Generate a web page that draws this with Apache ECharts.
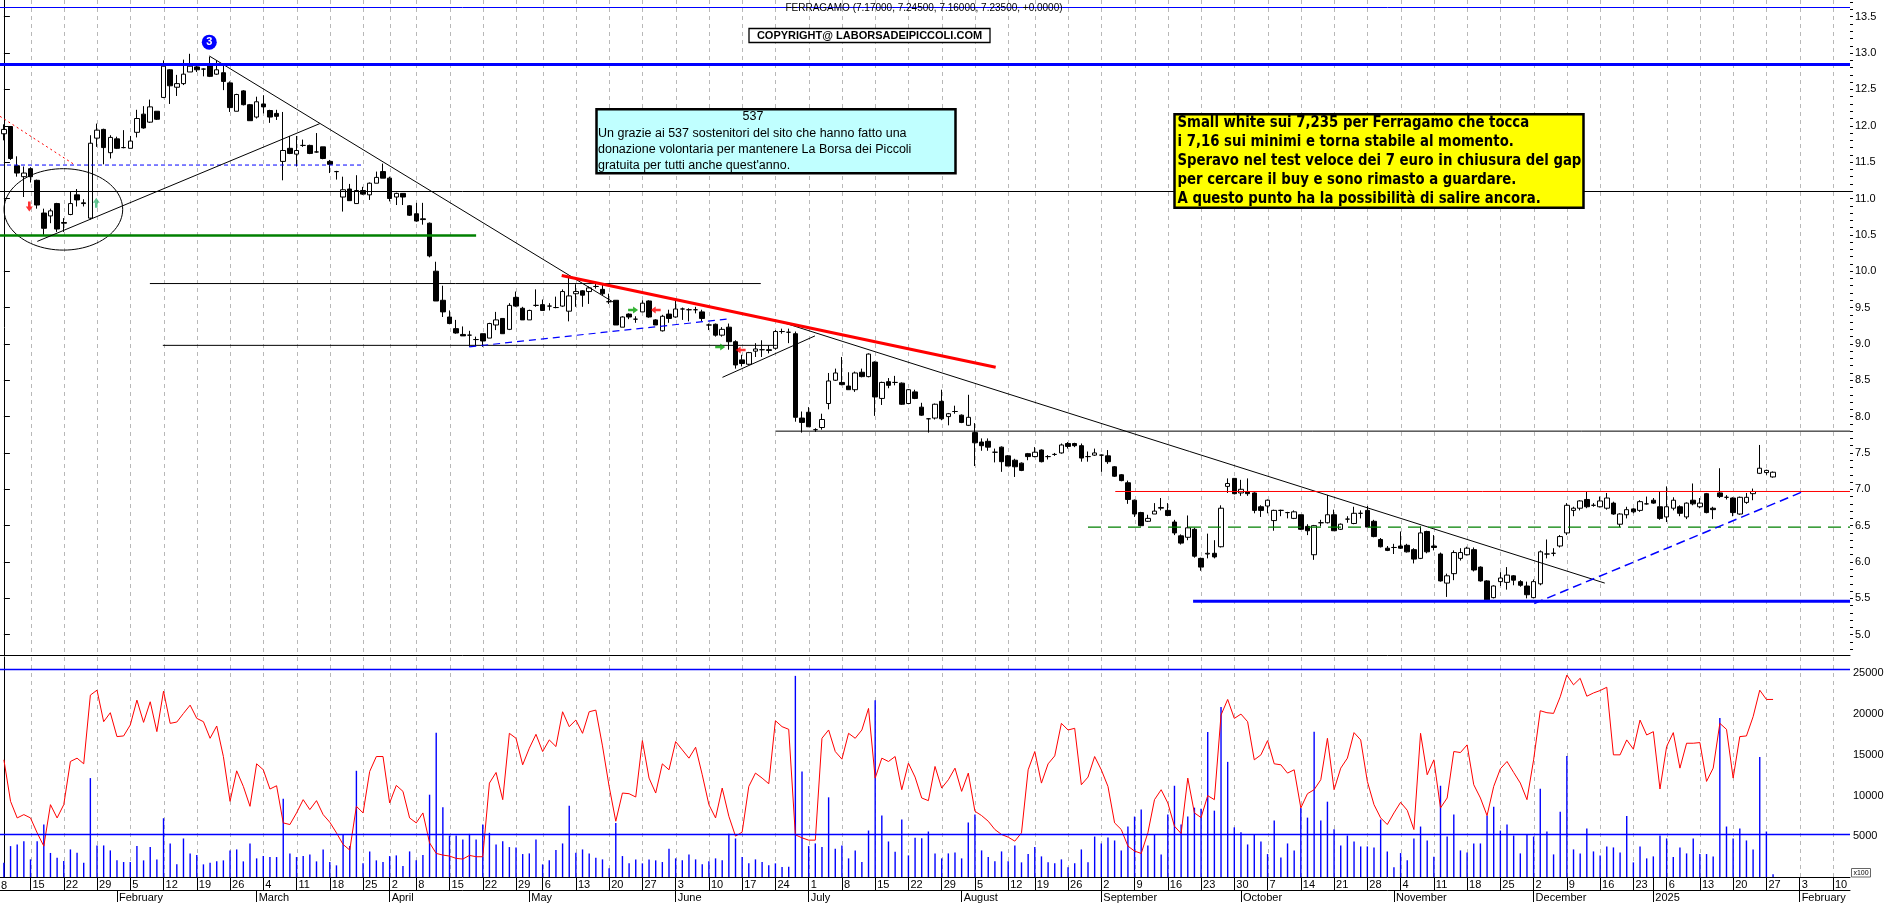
<!DOCTYPE html>
<html><head><meta charset="utf-8">
<script src="https://cdn.jsdelivr.net/npm/echarts@6/dist/echarts.min.js"></script>
<style>html,body{margin:0;padding:0;background:#fff;}#c{width:1890px;height:903px;}</style>
</head><body><div id="c"></div>
<script>
// ---------- DATA ----------
const startDate = '2024-01-09';
const endDate = '2025-02-12';
const holidays = ['2024-03-29','2024-04-01','2024-05-01','2024-08-15','2024-12-24','2024-12-25','2024-12-26','2024-12-31','2025-01-01'];
const skipWeekStarts = ['2024-12-30'];

const opens = [11.89,11.99,11.45,11.30,11.41,11.25,10.80,10.76,10.93,10.67,
10.78,11.05,10.94,10.73,11.83,11.95,11.63,11.82,11.70,11.69,
11.91,12.16,12.05,12.20,12.39,12.77,12.53,12.58,12.74,12.81,
12.78,12.85,12.71,12.73,12.59,12.20,12.48,12.29,12.12,12.30,
12.21,12.17,11.51,11.69,11.61,11.73,11.73,11.64,11.71,11.51,
11.37,11.02,11.13,10.93,11.11,11.05,11.21,11.37,11.28,11.02,
11.07,10.90,10.79,10.72,10.66,10.00,9.60,9.37,9.21,9.13,
9.12,9.06,9.14,9.08,9.26,9.35,9.20,9.64,9.49,9.33,
9.53,9.54,9.52,9.50,9.52,9.45,9.69,9.73,9.72,9.79,
9.75,9.58,9.60,9.23,9.41,9.34,9.44,9.59,9.33,9.18,
9.41,9.37,9.48,9.47,9.47,9.44,9.26,9.27,9.12,9.23,
9.03,8.78,8.72,8.90,8.92,8.92,8.94,9.17,9.16,9.14,
7.98,8.06,7.82,7.85,8.18,8.50,8.47,8.42,8.37,8.61,
8.55,8.75,8.25,8.48,8.47,8.46,8.18,8.34,8.13,7.97,
7.98,8.21,8.00,8.07,8.02,7.88,7.78,7.65,7.66,7.51,
7.58,7.46,7.40,7.36,7.49,7.45,7.54,7.45,7.48,7.50,
7.63,7.63,7.60,7.45,7.47,7.47,7.46,7.31,7.20,7.09,
6.85,6.68,6.56,6.66,6.74,6.71,6.55,6.36,6.34,6.45,
6.05,6.11,6.12,6.21,7.04,7.15,6.95,6.97,6.95,6.76,
6.77,6.57,6.71,6.68,6.60,6.65,6.49,6.10,6.54,6.54,
6.65,6.45,6.59,6.53,6.67,6.71,6.56,6.31,6.19,6.20,
6.22,6.23,6.17,6.05,6.42,6.22,6.11,5.71,5.84,6.05,
6.10,6.17,5.93,5.74,5.51,5.73,5.72,5.81,5.73,5.67,
5.51,5.70,6.11,6.12,6.22,6.40,6.71,6.74,6.86,6.78,
6.76,6.74,6.81,6.52,6.65,6.73,6.71,6.80,6.85,6.76,
6.62,6.74,6.76,6.62,6.85,6.76,6.94,6.74,6.95,6.89,
6.88,6.66,6.82,6.94,7.22,7.23,7.17];

const highs = [12.02,11.99,11.58,11.44,11.43,11.26,10.86,10.86,10.94,10.73,
11.09,11.13,10.99,11.87,12.03,11.96,11.87,11.85,11.94,11.86,
12.22,12.27,12.36,12.20,12.90,12.78,12.70,12.91,12.99,12.86,
12.79,12.95,12.90,12.86,12.61,12.44,12.49,12.30,12.40,12.42,
12.22,12.22,12.19,11.86,11.86,11.81,11.74,11.90,11.71,11.53,
11.38,11.30,11.20,11.32,11.16,11.22,11.37,11.48,11.30,11.08,
11.07,10.91,10.94,10.94,10.67,10.13,9.80,9.46,9.33,9.24,
9.18,9.10,9.14,9.29,9.44,9.35,9.56,9.72,9.51,9.47,
9.75,9.61,9.56,9.65,9.75,9.92,9.82,9.74,9.79,9.83,
9.83,9.69,9.60,9.38,9.42,9.38,9.60,9.60,9.34,9.40,
9.47,9.59,9.50,9.49,9.51,9.47,9.28,9.28,9.23,9.28,
9.05,8.85,8.89,9.01,9.05,8.98,9.19,9.21,9.21,9.17,
8.07,8.13,7.84,8.04,8.60,8.66,8.82,8.61,8.62,8.66,
8.87,8.76,8.48,8.53,8.56,8.47,8.38,8.37,8.19,7.98,
8.18,8.37,8.05,8.15,8.03,8.30,7.91,7.70,7.70,7.56,
7.59,7.47,7.42,7.37,7.50,7.58,7.55,7.47,7.50,7.63,
7.65,7.64,7.63,7.52,7.56,7.48,7.54,7.32,7.21,7.12,
6.86,6.69,6.65,6.81,6.88,6.81,6.58,6.38,6.64,6.47,
6.06,6.39,6.30,6.78,7.15,7.15,7.13,7.15,6.96,6.78,
6.86,6.72,6.72,6.69,6.71,6.65,6.52,6.51,6.58,6.92,
6.72,6.53,6.63,6.76,6.71,6.77,6.58,6.33,6.22,6.25,
6.42,6.25,6.19,6.49,6.43,6.37,6.13,5.84,6.16,6.19,
6.21,6.20,5.94,5.75,5.68,5.86,5.93,5.82,5.75,5.73,
5.76,6.16,6.31,6.19,6.37,6.81,6.76,6.85,6.97,6.81,
6.90,6.95,6.83,6.67,6.76,6.74,6.85,6.90,6.88,6.97,
7.04,6.89,6.78,6.82,7.08,6.88,6.95,6.76,7.29,6.92,
6.89,6.90,6.95,7.01,7.61,7.27,7.245];

const lows = [11.80,11.53,11.30,11.02,11.22,10.86,10.50,10.66,10.54,10.54,
10.77,10.89,10.89,10.71,11.71,11.47,11.55,11.68,11.69,11.69,
11.84,11.96,12.04,12.08,12.38,12.30,12.41,12.56,12.74,12.74,
12.68,12.67,12.70,12.49,12.19,12.20,12.28,12.07,12.10,12.17,
12.04,12.08,11.25,11.61,11.44,11.71,11.61,11.63,11.54,11.35,
11.26,10.82,10.97,10.93,11.05,10.98,11.21,11.28,10.96,10.91,
10.91,10.76,10.68,10.64,10.19,9.59,9.37,9.27,9.14,9.11,
8.96,8.97,8.96,9.08,9.19,9.14,9.19,9.51,9.33,9.33,
9.51,9.46,9.46,9.49,9.51,9.31,9.51,9.51,9.55,9.76,
9.67,9.55,9.26,9.23,9.34,9.29,9.44,9.36,9.26,9.17,
9.29,9.36,9.33,9.31,9.42,9.31,9.19,9.10,9.10,8.92,
8.66,8.69,8.71,8.82,8.82,8.87,8.92,9.14,9.01,7.93,
7.78,7.86,7.79,7.82,8.10,8.49,8.43,8.37,8.34,8.54,
8.54,8.01,8.16,8.39,8.43,8.16,8.17,8.24,8.01,7.78,
7.96,7.95,7.88,8.04,7.91,7.87,7.32,7.53,7.53,7.37,
7.24,7.32,7.17,7.25,7.40,7.44,7.37,7.41,7.46,7.49,
7.56,7.58,7.38,7.38,7.46,7.24,7.35,7.17,7.11,6.80,
6.62,6.49,6.55,6.66,6.71,6.63,6.37,6.24,6.30,6.06,
5.88,6.05,6.05,6.20,6.95,6.93,6.91,6.91,6.67,6.62,
6.67,6.43,6.63,6.60,6.59,6.44,6.37,6.03,6.49,6.53,
6.43,6.44,6.54,6.52,6.60,6.48,6.34,6.20,6.15,6.11,
6.18,6.13,5.98,6.04,6.12,6.16,5.73,5.52,5.75,6.02,
6.09,5.87,5.73,5.47,5.50,5.67,5.62,5.68,5.66,5.50,
5.50,5.68,6.05,6.08,6.20,6.37,6.63,6.71,6.74,6.76,
6.75,6.72,6.65,6.48,6.60,6.67,6.69,6.79,6.80,6.58,
6.55,6.71,6.63,6.59,6.78,6.74,6.67,6.59,6.88,6.86,
6.63,6.65,6.80,6.85,7.21,7.20,7.16];

const closes = [11.95,11.55,11.35,11.35,11.30,10.91,10.59,10.83,10.58,10.66,
10.93,10.98,10.93,11.76,11.94,11.70,11.84,11.69,11.70,11.79,
12.10,11.97,12.26,12.09,12.82,12.55,12.58,12.71,12.82,12.77,
12.78,12.68,12.77,12.61,12.25,12.43,12.29,12.07,12.33,12.26,
12.12,12.13,11.66,11.62,11.66,11.73,11.62,11.64,11.55,11.47,
11.37,11.12,10.97,11.11,11.06,11.21,11.29,11.28,11.00,11.07,
11.02,10.77,10.69,10.71,10.21,9.59,9.44,9.28,9.15,9.11,
9.12,9.06,9.04,9.28,9.33,9.14,9.53,9.52,9.33,9.46,
9.53,9.46,9.52,9.50,9.72,9.66,9.72,9.67,9.77,9.79,
9.69,9.58,9.26,9.37,9.37,9.34,9.56,9.37,9.26,9.38,
9.35,9.48,9.48,9.47,9.47,9.35,9.26,9.12,9.20,9.03,
8.71,8.73,8.88,8.93,8.92,8.91,9.17,9.17,9.16,7.99,
7.92,7.86,7.82,7.96,8.49,8.60,8.44,8.37,8.60,8.55,
8.86,8.27,8.47,8.43,8.47,8.17,8.37,8.25,8.02,7.97,
8.17,7.97,8.04,8.07,7.92,7.99,7.64,7.60,7.58,7.51,
7.38,7.32,7.31,7.26,7.45,7.51,7.38,7.45,7.48,7.61,
7.59,7.60,7.43,7.45,7.50,7.47,7.38,7.18,7.12,6.86,
6.66,6.50,6.60,6.70,6.75,6.64,6.40,6.26,6.47,6.08,
5.93,6.12,6.07,6.74,7.08,6.94,7.00,6.94,6.71,6.71,
6.85,6.71,6.71,6.68,6.69,6.45,6.43,6.50,6.54,6.65,
6.43,6.52,6.59,6.67,6.67,6.48,6.35,6.21,6.16,6.20,
6.19,6.14,6.04,6.40,6.14,6.20,5.74,5.81,6.13,6.13,
6.19,5.89,5.74,5.48,5.67,5.78,5.82,5.75,5.68,5.55,
5.73,6.14,6.11,6.12,6.35,6.78,6.74,6.84,6.76,6.78,
6.84,6.88,6.66,6.66,6.72,6.69,6.83,6.80,6.81,6.60,
6.76,6.85,6.67,6.81,6.80,6.81,6.68,6.72,6.90,6.89,
6.68,6.89,6.89,6.97,7.29,7.26,7.235];

// volume in units of 100 shares
const volumes = [1756,3794,3998,4405,2164,4405,6442,2954,2368,1960,
3386,2979,1756,12147,3875,3875,3264,2042,1838,1838,
3794,2042,3672,2164,7217,4120,1552,4731,2897,2694,
1552,1756,1919,2042,3264,3386,1919,4120,2286,2571,
2449,2449,9621,2897,2449,2571,2775,1919,3386,1838,
1430,5220,3794,13044,1675,3142,2042,1838,2571,2653,
1349,3142,2042,2694,10106,17726,8557,5094,5094,4605,
5298,4605,6442,5424,3998,4405,3672,3631,2816,2897,
4605,1552,2042,3305,4120,8761,2979,3386,2897,2368,
2164,1064,6646,2571,1675,2164,1675,2164,2042,1838,
3468,2286,2042,2775,2164,1552,1919,2286,2042,5302,
4731,2449,1675,2164,1838,1430,1675,1227,1267,24700,
12962,3794,4120,3672,9784,3468,3875,2286,3264,1838,
5705,21720,7539,4364,3101,7054,2653,4813,4772,5587,
2897,2286,2897,3020,2286,6687,7661,3264,2449,1919,
3142,1919,3875,1797,2816,3672,2531,1797,1675,2164,
1186,1675,3386,1797,4972,4120,4849,4487,3264,6198,
7421,8280,3875,5220,2775,7661,11206,6442,7421,8517,
8394,17808,8150,20863,14139,6100,5505,3998,5220,4364,
2816,6932,2408,4120,3264,8476,7294,17849,6932,9250,
5872,3875,5098,4364,3753,3753,3631,7054,3142,1186,
2938,2042,4731,6198,4487,2500,11206,4972,7661,3264,
3020,4120,4120,7539,8639,5705,6442,5094,2897,5220,
4972,10840,5587,2775,8028,14870,3386,2897,5950,3142,
2653,3753,3631,3020,7500,1797,3753,2286,2531,5094,
4731,2449,3631,2897,4731,2816,2816,2531,19522,6198,
4731,5950,4487,3386,14751,5587,330];

// red oscillator line drawn on the volume panel scale
const oscillator = [14389,9291,7254,7661,7254,5420,3790,8883,7254,8883,
14185,14593,13900,22334,22946,19075,20175,17241,17322,18667,
21724,18989,21520,17853,22824,18867,19030,20089,21108,19478,
19075,17037,18545,14796,9291,13040,11125,8680,13900,13166,
10803,11205,6646,6442,7868,9499,8277,9377,7661,6728,
5420,3997,3305,8680,7868,12962,14796,14796,9091,11250,
10517,7254,6646,7868,4200,2897,2694,2571,2286,2204,
2653,2490,2490,11532,12836,9499,17645,17037,13777,15815,
17522,15407,16834,16019,20292,18463,19278,17645,20292,20496,
16100,11125,6850,10310,10228,9824,16747,12148,10310,13896,
13162,16625,15611,14593,15937,12555,8883,7254,10921,7457,
5016,5505,11125,12759,12148,11455,19193,18463,18136,5179,
4812,4527,4527,17037,18056,15407,14470,17645,17037,18056,
20704,12148,14593,14185,14796,10717,13981,12270,9703,9377,
13574,10921,11940,13366,10514,12759,8073,7543,6850,5831,
5220,4893,4405,5424,13162,15407,11532,13896,14874,18867,
18056,18259,11328,12270,14796,13162,11125,6646,5831,3794,
3183,2897,5424,9499,10717,9091,6239,5342,12148,7868,
7300,9988,9499,19890,21805,19478,20007,19071,14389,15000,
16748,13900,13778,12759,13166,8480,10232,10721,11944,17033,
10721,13370,14593,17730,16834,11740,8887,7257,6442,7868,
9172,8195,5831,17648,12555,14389,8480,9702,15407,15285,
16222,11332,9702,7543,11125,13289,14185,12840,11536,9499,
14389,20419,20175,20093,22130,24800,23600,24400,22200,22600,
22900,23300,15000,15000,16834,15692,19274,17440,17848,10803,
16019,17730,13370,16426,16426,16508,11740,13370,18867,18134,
12148,17241,17322,19685,22946,21805,21805];

const priceTickLabels = [5.0,5.5,6.0,6.5,7.0,7.5,8.0,8.5,9.0,9.5,10.0,10.5,11.0,11.5,12.0,12.5,13.0,13.5];
const volumeTickLabels = [5000,10000,15000,20000,25000];
const monthNames = ['January','February','March','April','May','June','July','August','September','October','November','December'];
const firstWeekLabel = '8';

// Horizontal levels drawn across the whole price panel (price)
const fullLevels = [
  {price: 13.63, color: '#0000ff', width: 1},
  {price: 12.85, color: '#0000ff', width: 3},
  {price: 11.10, color: '#000000', width: 1}
];
// Drawn trend lines / segments: [x index, price] pairs ('END' = right edge, 'START' = left edge)
const segments = [
  {pts: [['START',10.49],[71.0,10.49]], color:'#008000', width:2.5},
  {pts: [['START',11.46],[53.8,11.46]], color:'#0000ff', width:1, dash:[4,3]},
  {pts: [['START',12.13],[10.7,11.46]], color:'#ff0000', width:1, dash:[2,3]},
  {pts: [[5.02,10.41],[47.5,12.03]], color:'#000000', width:1},
  {pts: [[30.88,12.96],[91.88,9.56]], color:'#000000', width:1},
  {pts: [[115.9,9.33],[240.7,5.71]], color:'#000000', width:1},
  {pts: [[21.95,9.83],[113.8,9.83]], color:'#000000', width:1},
  {pts: [[23.9,8.98],[116.2,8.98]], color:'#000000', width:1},
  {pts: [[69.97,8.96],[108.66,9.34]], color:'#0000ff', width:1.2, dash:[7,5]},
  {pts: [[108.04,8.54],[121.95,9.11]], color:'#000000', width:1},
  {pts: [[83.87,9.94],[149.12,8.68]], color:'#ff0000', width:3},
  {pts: [[116.0,7.80],['END',7.80]], color:'#000000', width:1},
  {pts: [[167.1,6.97],['END',6.97]], color:'#ff0000', width:1},
  {pts: [[163.0,6.48],['END',6.48]], color:'#008000', width:1.3, dash:[13,7]},
  {pts: [[178.8,5.46],['END',5.46]], color:'#0000ff', width:3},
  {pts: [[230.1,5.43],[270.8,6.98]], color:'#0000ff', width:1.5, dash:[9,5]}
];
const ellipseMark = {cx: 8.94, cy: 10.85, rx: 8.92, ry: 0.56};
const waveMark = {x: 30.88, y: 13.15, label: '3'};
const arrowMarks = [
  {x: 3.82, y: 10.89, dir: 'down', color: '#ff0000'},
  {x: 13.89, y: 10.94, dir: 'up', color: '#3cb878'},
  {x: 94.6, y: 9.466, dir: 'right', color: '#00a000'},
  {x: 98.0, y: 9.466, dir: 'left', color: '#ff0000'},
  {x: 107.7, y: 8.957, dir: 'right', color: '#00a000'},
  {x: 110.77, y: 8.916, dir: 'left', color: '#ff0000'}
];
const volumeLevels = [5300, 25500];

const noteLines = ['Small white sui 7,235 per Ferragamo che tocca',
  'i 7,16 sui minimi e torna stabile al momento.',
  'Speravo nel test veloce dei 7 euro in chiusura del gap',
  'per cercare il buy e sono rimasto a guardare.',
  'A questo punto ha la possibilità di salire ancora.'];
const thanksLines = ['Un grazie ai 537 sostenitori del sito che hanno fatto una',
  'donazione volontaria per mantenere La Borsa dei Piccoli',
  "gratuita per tutti anche quest'anno."];

// ---------- BUILD ----------
function buildDates() {
  const out = [];
  let d = new Date(startDate + 'T00:00:00Z');
  const end = new Date(endDate + 'T00:00:00Z');
  while (d <= end) {
    const s = d.toISOString().slice(0, 10);
    const dow = d.getUTCDay();
    if (dow !== 0 && dow !== 6 && holidays.indexOf(s) < 0) out.push(s);
    d = new Date(d.getTime() + 86400000);
  }
  return out;
}
const dates = buildDates();
const weekStarts = [], monthStarts = [];
for (let i = 1; i < dates.length; i++) {
  const a = new Date(dates[i-1] + 'T00:00:00Z'), b = new Date(dates[i] + 'T00:00:00Z');
  if ((b.getUTCDay() < a.getUTCDay() || (b - a) >= 7 * 86400000) && skipWeekStarts.indexOf(dates[i]) < 0) weekStarts.push(i);
  if (dates[i].slice(5, 7) !== dates[i-1].slice(5, 7)) monthStarts.push(i);
}
const yearStarts = monthStarts.filter(i => dates[i].slice(5, 7) === '01');
const dayLabel = {}; weekStarts.forEach(i => dayLabel[i] = String(parseInt(dates[i].slice(8, 10), 10)));
const monthLabel = {}; monthStarts.forEach(i => {
  const m = parseInt(dates[i].slice(5, 7), 10);
  monthLabel[i] = m === 1 ? dates[i].slice(0, 4) : monthNames[m - 1];
});

const X0 = -0.5864, X1 = 277.57;
const P0 = 4.721, P1 = 13.730;
const V1 = 27017;
const minorTicks = []; for (let k = 48; k <= 137; k++) minorTicks.push(k / 10);

const FONT = '"Liberation Sans", Arial, sans-serif';
const NARROW = '"Liberation Sans Narrow", "Arial Narrow", "DejaVu Sans Condensed", sans-serif';

const candleData = opens.map((o, i) => [i, o, closes[i], lows[i], highs[i]]);
const volData = volumes.map((v, i) => [i, v]);
const oscData = oscillator.map((v, i) => [i, v]);

function gridRenderer(lo, hi) {
  return function (params, api) {
    const x = api.value(0);
    const p1 = api.coord([x, hi]), p2 = api.coord([x, lo]);
    const px = Math.round(p1[0]) + 0.5;
    return {type: 'line', silent: true, shape: {x1: px, y1: p1[1], x2: px, y2: p2[1]},
      style: {stroke: '#b8b8b8', lineWidth: 1, lineDash: [4, 4]}};
  };
}
const arrowPaths = {
  up: 'path://M4,0 L8,5 L5.5,5 L5.5,10 L2.5,10 L2.5,5 L0,5 Z',
  down: 'path://M4,10 L8,5 L5.5,5 L5.5,0 L2.5,0 L2.5,5 L0,5 Z',
  right: 'path://M10,4 L5,8 L5,5.5 L0,5.5 L0,2.5 L5,2.5 L5,0 Z',
  left: 'path://M0,4 L5,8 L5,5.5 L10,5.5 L10,2.5 L5,2.5 L5,0 Z'
};

const series = [];
series.push({type: 'custom', name: 'gridP', xAxisIndex: 0, yAxisIndex: 0, z: 0, silent: true,
  data: weekStarts.map(i => [i, P0]), encode: {x: 0, y: 1}, renderItem: gridRenderer(P0, P1)});
series.push({type: 'custom', name: 'gridV', xAxisIndex: 1, yAxisIndex: 2, z: 0, silent: true,
  data: weekStarts.map(i => [i, 0]), encode: {x: 0, y: 1}, renderItem: gridRenderer(0, V1)});
series.push({
  type: 'candlestick', name: 'FERRAGAMO', xAxisIndex: 0, yAxisIndex: 0, z: 2,
  data: candleData, barWidth: 5,
  itemStyle: {color: '#ffffff', color0: '#000000', borderColor: '#000000', borderColor0: '#000000', borderColorDoji: '#000000', borderWidth: 1},
  markLine: {silent: true, symbol: 'none', animation: false, label: {show: false},
    data: fullLevels.map(l => ({yAxis: l.price, lineStyle: {color: l.color, width: l.width, type: 'solid'}}))},
  markPoint: {silent: true, animation: false, symbol: 'circle', symbolSize: 15,
    data: [{coord: [waveMark.x, waveMark.y], value: waveMark.label}],
    itemStyle: {color: '#0000ff'},
    label: {show: true, formatter: waveMark.label, color: '#ffffff', fontWeight: 'bold', fontSize: 11, fontFamily: FONT}}
});
segments.forEach(s => {
  series.push({type: 'line', xAxisIndex: 0, yAxisIndex: 0, z: 4, silent: true, symbol: 'none',
    data: s.pts.map(p => [p[0] === 'START' ? X0 : (p[0] === 'END' ? X1 : p[0]), p[1]]),
    lineStyle: {color: s.color, width: s.width, type: s.dash ? s.dash : 'solid', cap: 'butt'}});
});
series.push({type: 'custom', xAxisIndex: 0, yAxisIndex: 0, z: 4, silent: true,
  data: [[ellipseMark.cx, ellipseMark.cy]], encode: {x: 0, y: 1},
  renderItem: function (params, api) {
    const pts = [];
    for (let k = 0; k <= 96; k++) {
      const t = k / 96 * Math.PI * 2;
      pts.push(api.coord([ellipseMark.cx + ellipseMark.rx * Math.cos(t), ellipseMark.cy + ellipseMark.ry * Math.sin(t)]));
    }
    return {type: 'polyline', shape: {points: pts}, style: {stroke: '#000', lineWidth: 1, fill: null}};
  }});
series.push({type: 'scatter', xAxisIndex: 0, yAxisIndex: 0, z: 5, silent: true,
  data: arrowMarks.map(a => ({value: [a.x, a.y], symbol: arrowPaths[a.dir],
    symbolSize: (a.dir === 'up' || a.dir === 'down') ? [7, 10] : [10, 7], itemStyle: {color: a.color}}))});
series.push({type: 'bar', name: 'Volume', xAxisIndex: 1, yAxisIndex: 2, z: 2, barWidth: 1.4,
  data: volData, itemStyle: {color: '#0000ff'},
  markLine: {silent: true, symbol: 'none', animation: false, label: {show: false},
    data: volumeLevels.map(v => ({yAxis: v, lineStyle: {color: '#0000ff', width: 1.3, type: 'solid'}}))}});
series.push({type: 'line', name: 'Osc', xAxisIndex: 1, yAxisIndex: 2, z: 3, symbol: 'none',
  data: oscData, lineStyle: {color: '#ff0000', width: 1}});

const axisFont = {fontSize: 11, color: '#000', fontFamily: FONT};

function txt(x, y, text, font, align, sx) {
  return {type: 'text', z: 101, x: x, y: y, scaleX: sx || 1,
    style: {text: text, font: font, fill: '#000', align: align, verticalAlign: 'middle', textAlign: align, textVerticalAlign: 'middle'}};
}
const graphics = [
  txt(924, 8, 'FERRAGAMO (7.17000, 7.24500, 7.16000, 7.23500, +0.0000)', '10px ' + FONT, 'center'),
  {type: 'rect', z: 100, shape: {x: 749, y: 28.5, width: 241, height: 14}, style: {fill: '#ffffff', stroke: '#000', lineWidth: 1.3}},
  txt(869.5, 35.5, 'COPYRIGHT@ LABORSADEIPICCOLI.COM', 'bold 11px ' + FONT, 'center'),
  {type: 'rect', z: 100, shape: {x: 596.5, y: 109.3, width: 359, height: 64}, style: {fill: '#c0ffff', stroke: '#000', lineWidth: 2.5}},
  txt(753, 116.5, '537', '12.5px ' + FONT, 'center'),
  {type: 'rect', z: 100, shape: {x: 1174.5, y: 114.3, width: 409, height: 93.5}, style: {fill: '#ffff00', stroke: '#000', lineWidth: 2.5}},
  {type: 'rect', z: 100, shape: {x: 1851.5, y: 868.5, width: 19, height: 8.5}, style: {fill: '#ffffff', stroke: '#666', lineWidth: 1}},
  txt(1861, 873, 'x100', '7px ' + FONT, 'center'),
  txt(1, 885.5, firstWeekLabel, '11px ' + FONT, 'left')
];
thanksLines.forEach((t, k) => graphics.push(txt(598, 133.3 + k * 16.3, t, '12.5px ' + FONT, 'left')));
noteLines.forEach((t, k) => graphics.push(txt(1177.5, 122.5 + k * 19.05, t, 'bold 16px ' + NARROW, 'left', 0.922)));

const option = {
  animation: false,
  backgroundColor: '#ffffff',
  textStyle: {fontFamily: FONT},
  grid: [
    {left: 0, right: 40, top: 0, height: 655},
    {left: 0, right: 40, top: 657, height: 221}
  ],
  xAxis: [
    {type: 'value', gridIndex: 0, min: X0, max: X1, position: 'bottom',
      axisLine: {show: true, onZero: false, lineStyle: {color: '#000', width: 1}},
      axisTick: {show: false}, axisLabel: {show: false}, splitLine: {show: false}},
    {type: 'value', gridIndex: 1, min: X0, max: X1, position: 'bottom',
      axisLine: {show: true, onZero: false, lineStyle: {color: '#000', width: 1}},
      axisTick: {show: true, length: 13, customValues: weekStarts.concat(yearStarts), lineStyle: {color: '#000'}},
      axisLabel: Object.assign({customValues: weekStarts, formatter: v => dayLabel[Math.round(v)] || '', align: 'left', margin: 2, padding: [0, 0, 0, 2]}, axisFont),
      splitLine: {show: false}},
    {type: 'value', gridIndex: 1, min: X0, max: X1, position: 'bottom', offset: 13,
      axisLine: {show: true, onZero: false, lineStyle: {color: '#000', width: 1}},
      axisTick: {show: true, length: 12, customValues: monthStarts, lineStyle: {color: '#000'}},
      axisLabel: Object.assign({customValues: monthStarts, formatter: v => monthLabel[Math.round(v)] || '', align: 'left', margin: 2, padding: [0, 0, 0, 2]}, axisFont),
      splitLine: {show: false}}
  ],
  yAxis: [
    {type: 'value', gridIndex: 0, position: 'right', min: P0, max: P1,
      axisLine: {show: true, lineStyle: {color: '#000', width: 1}},
      axisTick: {show: true, length: 6, customValues: priceTickLabels, lineStyle: {color: '#000'}},
      axisLabel: Object.assign({customValues: priceTickLabels, formatter: v => v.toFixed(1), margin: 5}, axisFont),
      splitLine: {show: false}},
    {type: 'value', gridIndex: 0, position: 'right', min: P0, max: P1,
      axisLine: {show: false},
      axisTick: {show: true, length: 3, customValues: minorTicks, lineStyle: {color: '#000'}},
      axisLabel: {show: false}, splitLine: {show: false}},
    {type: 'value', gridIndex: 1, position: 'right', min: 0, max: V1,
      axisLine: {show: true, lineStyle: {color: '#000', width: 1}},
      axisTick: {show: false},
      axisLabel: Object.assign({customValues: volumeTickLabels, formatter: v => String(v), margin: 3}, axisFont),
      splitLine: {show: false}}
  ],
  series: series,
  graphic: graphics
};

const chart = echarts.init(document.getElementById('c'), null, {renderer: 'canvas'});
chart.setOption(option);
</script>
</body></html>
